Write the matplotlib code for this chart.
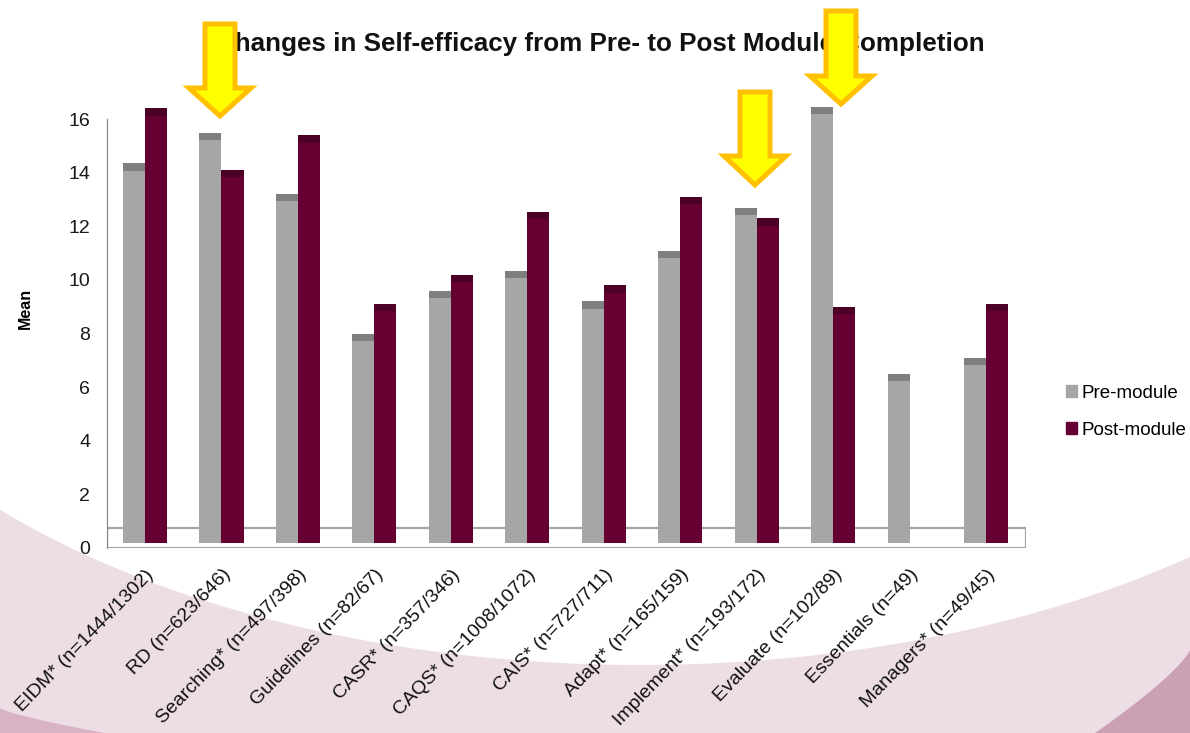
import numpy as np
import matplotlib
matplotlib.use("Agg")
import matplotlib.pyplot as plt
from matplotlib.patches import Polygon, Rectangle
from matplotlib.transforms import Affine2D

# ----- data -----
modules = ["EIDM* (n=1444/1302)", "RD (n=623/646)", "Searching* (n=497/398)",
           "Guidelines (n=82/67)", "CASR* (n=357/346)", "CAQS* (n=1008/1072)",
           "CAIS* (n=727/711)", "Adapt* (n=165/159)", "Implement* (n=193/172)",
           "Evaluate (n=102/89)", "Essentials (n=49)", "Managers* (n=49/45)"]
pre_module = [14.35, 15.5, 13.2, 8.0, 9.6, 10.35, 9.2, 11.1, 12.7, 16.45, 6.5, 7.1]
post_module = [16.4, 14.1, 15.4, 9.1, 10.2, 12.55, 9.8, 13.1, 12.3, 9.0, np.nan, 9.1]
y_ticks = [0, 2, 4, 6, 8, 10, 12, 14, 16]

W, H = 1190, 733
plt.rcParams["font.family"] = ["Liberation Sans", "DejaVu Sans"]

PRE_C, PRE_TOP = "#a6a6a6", "#7f7f7f"
POST_C, POST_TOP = "#660033", "#4d0026"
FLOOR = 0.2     # bars stand on the 3d floor
CAP = 0.27      # darker top face
BW = 0.288

fig = plt.figure(figsize=(W / 100, H / 100), dpi=100)
fig.patch.set_facecolor("white")
# pixel coords, origin top-left
pix = Affine2D().scale(1 / W, -1 / H).translate(0, 1) + fig.transFigure

# ----- pink swoosh background -----
t = np.linspace(np.pi, 2 * np.pi, 200)
cx, cy, rx, ry = 640, 200, 858, 465
xs = cx + rx * np.cos(t)
ys = cy - ry * np.sin(t)
keep = (xs >= -5) & (xs <= W + 5)
arc = np.column_stack([xs[keep], ys[keep]])
band = np.vstack([arc, [[W, H], [0, H]]])
fig.patches.append(Polygon(band, closed=True, transform=pix, facecolor="#eddde5",
                           edgecolor="none", zorder=-10))
# darker corner pieces
u = np.linspace(0, 1, 40)
bl = np.column_stack([105 * u ** 1.3, 708 + 25 * u])
fig.patches.append(Polygon(np.vstack([bl, [[0, H]]]), closed=True, transform=pix,
                           facecolor="#d7b3c5", edgecolor="none", zorder=-9))
br = np.column_stack([W - 95 * u, 650 + 83 * u ** 0.8])
fig.patches.append(Polygon(np.vstack([br, [[W, H]]]), closed=True, transform=pix,
                           facecolor="#caa0b5", edgecolor="none", zorder=-9))

# ----- axes -----
ax = fig.add_axes([107 / W, 1 - 548 / H, 919 / W, 17 * 26.8 / H])
ax.set_facecolor("none")
x = np.arange(len(modules))
ax.set_xlim(-0.497, 11.52)
ax.set_ylim(0, 17)

ax.add_patch(Rectangle((-0.497, 0), 12.02, 0.75, facecolor="white",
                       edgecolor="#a6a6a6", lw=1.6, zorder=1))

pre = np.array(pre_module)
post = np.array(post_module)
for xs_, vals, body, top in [(x - BW / 2, pre, PRE_C, PRE_TOP),
                             (x + BW / 2, post, POST_C, POST_TOP)]:
    ok = ~np.isnan(vals)
    ax.bar(xs_[ok], vals[ok] - FLOOR, BW, bottom=FLOOR, color=body,
           linewidth=0, zorder=3, clip_on=False)
    ax.bar(xs_[ok], CAP, BW, bottom=vals[ok] - CAP, color=top,
           linewidth=0, zorder=4, clip_on=False)

for s in ["top", "right", "bottom"]:
    ax.spines[s].set_visible(False)
ax.spines["left"].set_color("#8c8c8c")
ax.spines["left"].set_linewidth(0.9)
ax.spines["left"].set_bounds(0, 16)

ax.set_yticks(y_ticks)
ax.set_yticklabels([str(v) for v in y_ticks], fontsize=14, color="#1a1a1a")
ax.tick_params(axis="y", length=0, pad=12)
ax.set_xticks(x)
ax.set_xticklabels(modules, rotation=46, ha="right", rotation_mode="anchor",
                   fontsize=14, color="#111111")
ax.tick_params(axis="x", length=0, pad=13)

ax.set_ylabel("Mean", fontsize=11.5, fontweight="bold")
ax.yaxis.set_label_coords(-0.081, 0.525)

# legend
h1 = Rectangle((0, 0), 1, 1, color=PRE_C)
h2 = Rectangle((0, 0), 1, 1, color=POST_C)
fig.legend([h1, h2], ["Pre-module", "Post-module"], loc="upper left",
           bbox_to_anchor=(1066 / W, 1 - 385 / H), frameon=False, fontsize=13.5,
           handlelength=0.6, handleheight=0.6, handletextpad=0.25,
           labelspacing=1.05, borderpad=0, borderaxespad=0)

# title
fig.text(600 / W, 1 - 44 / H,
         "Changes in Self-efficacy from Pre- to Post Module Completion",
         ha="center", va="center", fontsize=18.7, fontweight="bold", color="#111111")

# ----- yellow arrows (drawn over everything) -----
def arrow(xc, y_top, y_base, y_tip, shaft=30, head=62):
    pts = [(xc - shaft / 2, y_top), (xc + shaft / 2, y_top), (xc + shaft / 2, y_base),
           (xc + head / 2, y_base), (xc, y_tip), (xc - head / 2, y_base),
           (xc - shaft / 2, y_base)]
    fig.patches.append(Polygon(pts, closed=True, transform=pix, facecolor="#ffff00",
                               edgecolor="#ffc000", lw=3.6, joinstyle="miter", zorder=20))

arrow(220, 24, 88, 116)
arrow(755, 92, 156, 185)
arrow(841, 11, 76, 104)

fig.savefig("out.png", dpi=100)
